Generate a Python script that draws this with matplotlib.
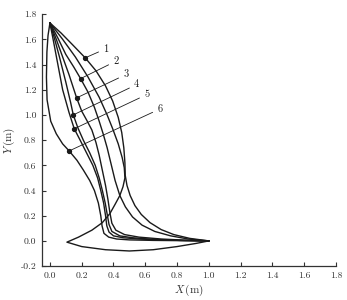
import matplotlib
matplotlib.use("Agg")
import matplotlib.pyplot as plt

plt.rcParams['font.family'] = ['cmr10', 'DejaVu Serif']
plt.rcParams['mathtext.fontset'] = 'cm'
plt.rcParams['axes.unicode_minus'] = False

# trajectories (x, y) in metres, all starting at the top apex
c1_x = [0.0, 0.07, 0.14, 0.222, 0.29, 0.35, 0.395, 0.43, 0.452, 0.465, 0.472, 0.474, 0.485, 0.505, 0.535, 0.575, 0.63, 0.7, 0.78, 0.88, 1.0]
c1_y = [1.73, 1.65, 1.56, 1.453, 1.35, 1.23, 1.11, 0.98, 0.86, 0.74, 0.62, 0.52, 0.44, 0.36, 0.28, 0.21, 0.145, 0.09, 0.05, 0.02, 0.0]

loop_x = [0.0, 0.08, 0.16, 0.24, 0.31, 0.36, 0.395, 0.43, 0.455, 0.468, 0.472, 0.46, 0.44, 0.41, 0.378, 0.33, 0.264, 0.18, 0.107,
          0.2, 0.35, 0.5, 0.65, 0.8, 0.92, 1.0]
loop_y = [1.73, 1.6, 1.46, 1.3, 1.14, 1.0, 0.89, 0.77, 0.66, 0.58, 0.5, 0.43, 0.36, 0.29, 0.218, 0.145, 0.085, 0.03, -0.01,
          -0.045, -0.07, -0.08, -0.07, -0.045, -0.02, 0.0]

c2_x = [0.0, 0.05, 0.1, 0.15, 0.193, 0.24, 0.28, 0.31, 0.335, 0.36, 0.385, 0.41, 0.44, 0.475, 0.52, 0.58, 0.66, 0.76, 0.87, 1.0]
c2_y = [1.73, 1.61, 1.48, 1.38, 1.288, 1.18, 1.06, 0.95, 0.85, 0.74, 0.61, 0.48, 0.36, 0.27, 0.19, 0.125, 0.075, 0.04, 0.015, 0.0]

c3_x = [0.0, 0.04, 0.08, 0.12, 0.168, 0.2, 0.235, 0.264, 0.29, 0.31, 0.33, 0.35, 0.365, 0.378, 0.39, 0.415, 0.47, 0.56, 0.7, 0.85, 1.0]
c3_y = [1.73, 1.6, 1.46, 1.32, 1.135, 1.03, 0.95, 0.88, 0.78, 0.68, 0.56, 0.44, 0.33, 0.22, 0.14, 0.085, 0.05, 0.03, 0.015, 0.006, 0.0]

c4_x = [0.0, 0.03, 0.06, 0.1, 0.13, 0.147, 0.175, 0.21, 0.25, 0.285, 0.31, 0.33, 0.348, 0.362, 0.372, 0.39, 0.44, 0.52, 0.65, 0.82, 1.0]
c4_y = [1.73, 1.6, 1.46, 1.26, 1.1, 1.0, 0.9, 0.8, 0.7, 0.6, 0.5, 0.4, 0.3, 0.2, 0.13, 0.075, 0.04, 0.025, 0.012, 0.004, 0.0]

c5_x = [0.0, 0.02, 0.05, 0.08, 0.12, 0.153, 0.19, 0.23, 0.27, 0.3, 0.32, 0.338, 0.35, 0.358, 0.372, 0.4, 0.46, 0.56, 0.7, 0.85, 1.0]
c5_y = [1.73, 1.6, 1.4, 1.2, 1.02, 0.89, 0.8, 0.7, 0.6, 0.5, 0.4, 0.3, 0.2, 0.12, 0.07, 0.04, 0.025, 0.015, 0.008, 0.003, 0.0]

c6_x = [0.0, -0.012, -0.019, -0.022, -0.018, 0.005, 0.04, 0.08, 0.121, 0.17, 0.21, 0.25, 0.28, 0.305, 0.32, 0.328, 0.34, 0.37, 0.42, 0.5, 0.65, 0.82, 1.0]
c6_y = [1.73, 1.63, 1.5, 1.3, 1.12, 0.95, 0.85, 0.77, 0.714, 0.64, 0.563, 0.48, 0.4, 0.3, 0.2, 0.12, 0.06, 0.03, 0.015, 0.008, 0.004, 0.002, 0.0]

# marked points and their labels
mark_x = [0.222, 0.193, 0.168, 0.147, 0.153, 0.121]
mark_y = [1.453, 1.288, 1.135, 1.0, 0.89, 0.714]
labels = ['1', '2', '3', '4', '5', '6']
label_x = [0.352, 0.415, 0.478, 0.546, 0.609, 0.692]
label_y = [1.525, 1.426, 1.320, 1.241, 1.161, 1.047]

xticks = [0.0, 0.2, 0.4, 0.6, 0.8, 1.0, 1.2, 1.4, 1.6, 1.8]
xtick_labels = ['0.0', '0.2', '0.4', '0.6', '0.8', '1.0', '1.2', '1.4', '1.6', '1.8']
yticks = [-0.2, 0.0, 0.2, 0.4, 0.6, 0.8, 1.0, 1.2, 1.4, 1.6, 1.8]
ytick_labels = ['-0.2', '0.0', '0.2', '0.4', '0.6', '0.8', '1.0', '1.2', '1.4', '1.6', '1.8']

fig = plt.figure(figsize=(3.47, 3.0), dpi=100)
ax = fig.add_axes([0.121, 0.113, 0.847, 0.84])

col = '#1a1a1a'
for xs, ys in [(c1_x, c1_y), (loop_x, loop_y), (c2_x, c2_y), (c3_x, c3_y),
               (c4_x, c4_y), (c5_x, c5_y), (c6_x, c6_y)]:
    ax.plot(xs, ys, color=col, lw=1.0, solid_joinstyle='round')

ax.plot(mark_x, mark_y, 'o', color=col, ms=2.8, zorder=5)
for mx, my, lab, lx, ly in zip(mark_x, mark_y, labels, label_x, label_y):
    ax.annotate(lab, xy=(mx, my), xytext=(lx, ly), fontsize=7.5, color=col,
                ha='center', va='center',
                arrowprops=dict(arrowstyle='-', color=col, lw=0.6,
                                shrinkA=1.5, shrinkB=0))

ax.set_xlim(-0.05, 1.8)
ax.set_ylim(-0.2, 1.8)
ax.set_xticks(xticks)
ax.set_xticklabels(xtick_labels)
ax.set_yticks(yticks)
ax.set_yticklabels(ytick_labels)
ax.spines['top'].set_visible(False)
ax.spines['right'].set_visible(False)
for s in ['left', 'bottom']:
    ax.spines[s].set_linewidth(0.9)
    ax.spines[s].set_color('#333333')
ax.tick_params(direction='in', length=3, width=0.8, labelsize=7, colors='#333333', pad=4)

ax.set_xlabel(r'$X\,(\mathrm{m})$', fontsize=8, color='#333333', labelpad=2)
ax.set_ylabel(r'$Y\,(\mathrm{m})$', fontsize=8, color='#333333', labelpad=3)

fig.savefig('out.png', dpi=100)
